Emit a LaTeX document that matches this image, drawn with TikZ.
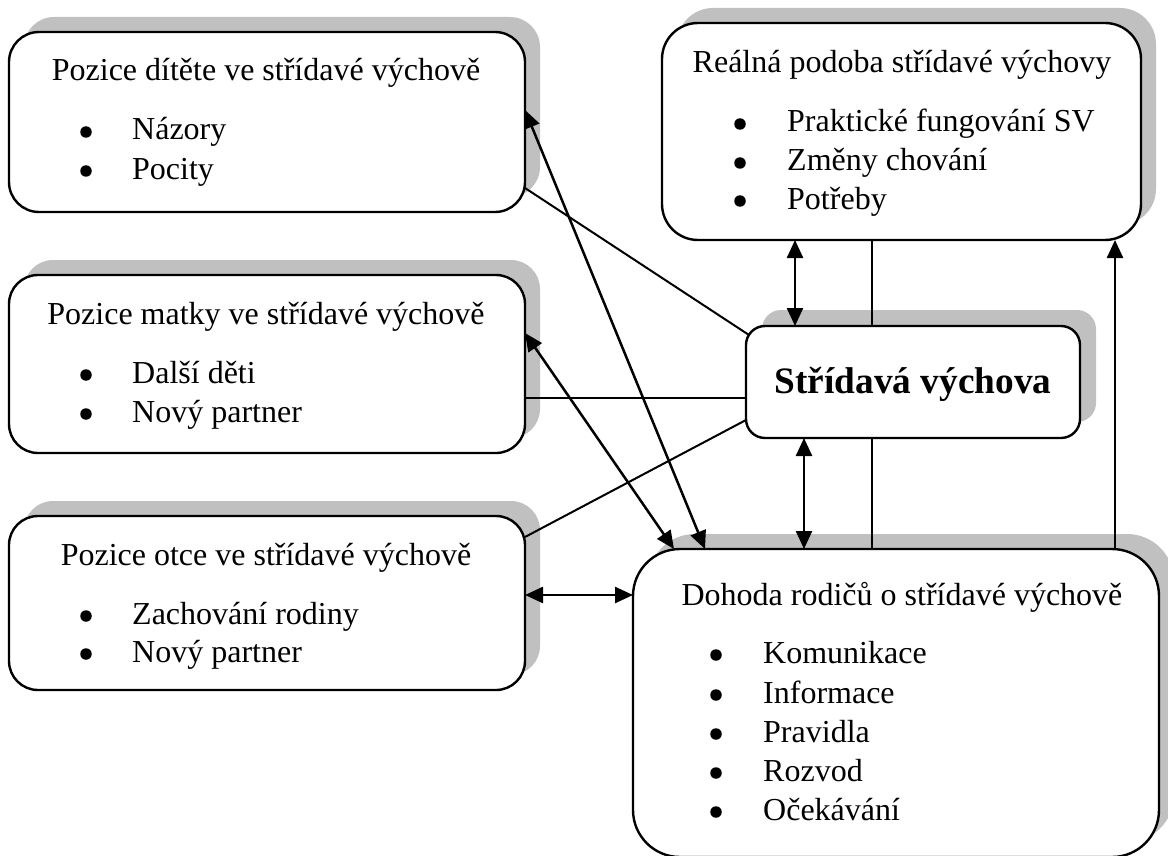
\documentclass[tikz,border=0pt]{standalone}
\usepackage{fontspec}
\setmainfont{Liberation Serif}
\usetikzlibrary{arrows.meta}
\definecolor{shadowgray}{HTML}{C0C0C0}
\tikzset{
  boxst/.style={draw=black, fill=white, line width=2.4pt, inner sep=0pt, outer sep=0pt, anchor=north west, rectangle},
  shadowst/.style={fill=shadowgray},
  titlest/.style={anchor=base, inner sep=0pt, font=\fontsize{32}{38}\selectfont},
  itemst/.style={anchor=base west, inner sep=0pt, font=\fontsize{32}{38}\selectfont},
  dotst/.style={circle, fill=black, inner sep=0pt, minimum size=11.5pt},
  centerst/.style={anchor=base, inner sep=0pt, font=\fontsize{37.3}{44}\selectfont\bfseries},
  link/.style={line width=2pt},
  tipst/.tip={Triangle[length=18pt,width=16pt]},
  biarrow/.style={line width=2.5pt, tipst-tipst},
  uparrow/.style={line width=2.5pt, -tipst},
}
\begin{document}
\begin{tikzpicture}[x=1pt,y=-1pt]
\useasboundingbox (0,0) rectangle (1168,856);
% shadows
\fill[shadowst, rounded corners=30pt] (24,17) rectangle (540,197);
\fill[shadowst, rounded corners=29pt] (24,260) rectangle (540,438);
\fill[shadowst, rounded corners=29pt] (24,501) rectangle (540,675);
\fill[shadowst, rounded corners=36pt] (677,8) rectangle (1156,225);
\fill[shadowst, rounded corners=19pt] (762,310) rectangle (1096,422);
\fill[shadowst, rounded corners=47pt] (648,534) rectangle (1174,842);
% boxes
\node[boxst, rounded corners=30pt, minimum width=516pt, minimum height=180pt] (b1) at (9,32) {};
\node[boxst, rounded corners=29pt, minimum width=516pt, minimum height=178pt] (b2) at (9,275) {};
\node[boxst, rounded corners=29pt, minimum width=516pt, minimum height=174pt] (b3) at (9,516) {};
\node[boxst, rounded corners=36pt, minimum width=479pt, minimum height=217pt] (b4) at (662,23) {};
\node[boxst, rounded corners=19pt, minimum width=334pt, minimum height=112pt] (c) at (746,326) {};
\node[boxst, rounded corners=47pt, minimum width=526pt, minimum height=308pt] (d) at (633,549) {};
% texts box 1
\node[titlest] (t1) at (266,81) {Pozice dítěte ve střídavé výchově};
\node[dotst] (t1b1) at (86,132) {};
\node[itemst] (t1i1) at (132,140) {Názory};
\node[dotst] (t1b2) at (86,171) {};
\node[itemst] (t1i2) at (132,179) {Pocity};
% texts box 2
\node[titlest] (t2) at (266,324) {Pozice matky ve střídavé výchově};
\node[dotst] (t2b1) at (86,375) {};
\node[itemst] (t2i1) at (132,383) {Další děti};
\node[dotst] (t2b2) at (86,414) {};
\node[itemst] (t2i2) at (132,422) {Nový partner};
% texts box 3
\node[titlest] (t3) at (266,565) {Pozice otce ve střídavé výchově};
\node[dotst] (t3b1) at (86,616) {};
\node[itemst] (t3i1) at (132,624) {Zachování rodiny};
\node[dotst] (t3b2) at (86,654) {};
\node[itemst] (t3i2) at (132,662) {Nový partner};
% texts box 4
\node[titlest] (t4) at (902,73) {Reálná podoba střídavé výchovy};
\node[dotst] (t4b1) at (740,124) {};
\node[itemst] (t4i1) at (787,132) {Praktické fungování SV};
\node[dotst] (t4b2) at (740,163) {};
\node[itemst] (t4i2) at (787,171) {Změny chování};
\node[dotst] (t4b3) at (740,201) {};
\node[itemst] (t4i3) at (787,209) {Potřeby};
% centre
\node[centerst] (ct) at (913,393) {Střídavá výchova};
% texts box 5
\node[titlest] (t5) at (902,605) {Dohoda rodičů o střídavé výchově};
\node[dotst] (t5b1) at (716,655) {};
\node[itemst] (t5i1) at (763,663) {Komunikace};
\node[dotst] (t5b2) at (716,695) {};
\node[itemst] (t5i2) at (763,703) {Informace};
\node[dotst] (t5b3) at (716,734) {};
\node[itemst] (t5i3) at (763,742) {Pravidla};
\node[dotst] (t5b4) at (716,773) {};
\node[itemst] (t5i4) at (763,781) {Rozvod};
\node[dotst] (t5b5) at (716,812) {};
\node[itemst] (t5i5) at (763,820) {Očekávání};
% connectors
\draw[biarrow] ([yshift=12pt]b1.east) -- ([xshift=72pt]d.north west);
\draw[biarrow] ([yshift=31pt]b2.east) -- ([xshift=41pt]d.north west);
\draw[link] ([yshift=-34pt]b2.east) -- ([yshift=-16pt]c.west);
\draw[link] ([yshift=-66pt]b1.east) -- ([xshift=3pt,yshift=47pt]c.west);
\draw[link] ([yshift=66pt]b3.east) -- ([yshift=-38pt]c.west);
\draw[biarrow] ([yshift=8pt]b3.east) -- ([yshift=108pt]d.west);
\draw[biarrow] ([xshift=133pt]b4.south west) -- ([xshift=49pt]c.north west);
\draw[link] ([xshift=210pt]b4.south west) -- ([xshift=126pt]c.north west);
\draw[biarrow] ([xshift=58pt]c.south west) -- ([xshift=171pt]d.north west);
\draw[link] ([xshift=126pt]c.south west) -- ([xshift=239pt]d.north west);
\draw[uparrow] ([xshift=482pt]d.north west) -- ([xshift=453pt]b4.south west);
\end{tikzpicture}
\end{document}
